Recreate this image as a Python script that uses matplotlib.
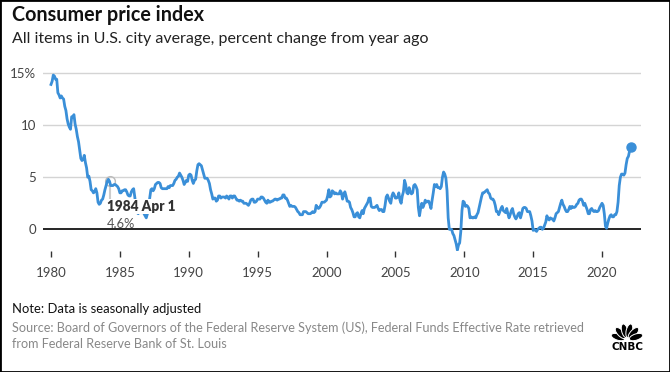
import numpy as np
import matplotlib
matplotlib.use("Agg")
import matplotlib.pyplot as plt
from matplotlib.patches import Rectangle, Ellipse

plt.rcParams['font.family'] = ['Lato', 'DejaVu Sans']

# ---- data: CPI all items, % change from year ago, monthly from Jan 1980 ----
START_YEAR = 1980
cpi_1980s = [
    13.9, 14.2, 14.8, 14.7, 14.4, 14.4, 13.1, 12.9, 12.6, 12.8, 12.6, 12.5,
    11.8, 11.4, 10.6, 10.1, 9.8, 9.6, 10.8, 10.8, 11.0, 10.1, 9.6, 8.9,
    8.4, 7.6, 6.8, 6.6, 6.7, 7.1, 6.4, 5.9, 5.0, 5.1, 4.6, 3.8,
    3.7, 3.5, 3.6, 3.9, 3.5, 2.6, 2.4, 2.5, 2.8, 2.9, 3.3, 3.8,
    4.2, 4.6, 4.8, 4.6, 4.2, 4.2, 4.2, 4.3, 4.3, 4.2, 4.1, 3.9,
    3.5, 3.5, 3.7, 3.7, 3.8, 3.8, 3.6, 3.3, 3.2, 3.2, 3.6, 3.8,
    3.9, 3.1, 2.2, 1.6, 1.5, 1.8, 1.6, 1.6, 1.8, 1.5, 1.3, 1.1,
    1.5, 2.1, 3.0, 3.8, 3.9, 3.7, 3.9, 4.3, 4.4, 4.5, 4.5, 4.4,
    4.0, 3.9, 3.9, 3.9, 3.9, 3.9, 4.1, 4.0, 4.2, 4.2, 4.2, 4.4,
    4.7, 4.8, 5.0, 5.1, 5.4, 5.2, 5.0, 4.7, 4.3, 4.5, 4.7, 4.6,
]
cpi_1990s = [
    5.2, 5.3, 5.2, 4.7, 4.4, 4.7, 4.8, 5.6, 6.2, 6.3, 6.2, 6.1,
    5.7, 5.3, 4.9, 4.9, 4.9, 4.7, 4.4, 3.8, 3.4, 2.9, 3.0, 3.0,
    2.7, 2.8, 3.2, 3.2, 3.0, 3.1, 3.1, 3.1, 3.0, 3.2, 3.1, 2.9,
    3.2, 3.2, 3.0, 3.2, 3.2, 3.0, 2.8, 2.8, 2.7, 2.8, 2.7, 2.7,
    2.5, 2.5, 2.5, 2.4, 2.3, 2.5, 2.8, 2.9, 2.9, 2.6, 2.6, 2.7,
    2.9, 2.9, 2.9, 3.1, 3.1, 3.0, 2.8, 2.6, 2.5, 2.8, 2.6, 2.6,
    2.7, 2.7, 2.8, 2.9, 2.9, 2.8, 2.9, 2.9, 3.0, 3.0, 3.3, 3.3,
    3.0, 3.0, 2.8, 2.5, 2.2, 2.3, 2.2, 2.2, 2.2, 2.1, 1.9, 1.7,
    1.6, 1.4, 1.4, 1.4, 1.7, 1.7, 1.7, 1.6, 1.5, 1.5, 1.5, 1.6,
    1.7, 1.6, 1.7, 2.3, 2.1, 2.0, 2.1, 2.3, 2.6, 2.6, 2.6, 2.7,
]
cpi_2000s = [
    2.8, 3.2, 3.8, 3.1, 3.2, 3.7, 3.6, 3.4, 3.5, 3.4, 3.4, 3.4,
    3.7, 3.5, 2.9, 3.3, 3.6, 3.2, 2.7, 2.7, 2.6, 2.1, 1.9, 1.6,
    1.2, 1.2, 1.5, 1.6, 1.2, 1.1, 1.5, 1.8, 1.5, 2.0, 2.2, 2.4,
    2.6, 3.0, 3.0, 2.2, 2.1, 2.1, 2.1, 2.2, 2.3, 2.0, 1.8, 1.9,
    1.9, 1.7, 1.7, 2.3, 3.1, 3.3, 3.0, 2.7, 2.5, 3.2, 3.5, 3.3,
    3.0, 3.0, 3.1, 3.5, 2.8, 2.5, 3.2, 3.6, 4.7, 4.3, 3.5, 3.4,
    4.0, 3.6, 3.4, 3.5, 4.2, 4.3, 4.1, 3.8, 2.1, 1.3, 2.0, 2.5,
    2.1, 2.4, 2.8, 2.6, 2.7, 2.7, 2.4, 2.0, 2.8, 3.5, 4.3, 4.1,
    4.3, 4.0, 4.0, 3.9, 4.1, 5.0, 5.5, 5.3, 4.9, 3.7, 1.1, 0.0,
    0.0, 0.0, -0.4, -0.6, -1.0, -1.4, -2.0, -1.5, -1.3, -0.2, 1.8, 2.7,
]
cpi_2010s = [
    2.6, 2.2, 2.3, 2.2, 2.0, 1.1, 1.2, 1.1, 1.1, 1.2, 1.1, 1.4,
    1.6, 2.1, 2.6, 3.1, 3.5, 3.5, 3.6, 3.7, 3.8, 3.5, 3.4, 3.0,
    2.9, 2.9, 2.7, 2.3, 1.7, 1.7, 1.4, 1.7, 2.0, 2.2, 1.8, 1.7,
    1.6, 2.0, 1.5, 1.1, 1.4, 1.8, 2.0, 1.5, 1.2, 1.0, 1.2, 1.5,
    1.6, 1.1, 1.5, 2.0, 2.1, 2.1, 2.0, 1.7, 1.7, 1.7, 1.3, 0.8,
    -0.1, 0.0, -0.1, -0.2, 0.0, 0.1, 0.2, 0.2, 0.0, 0.1, 0.4, 0.7,
    1.3, 1.0, 0.9, 1.1, 1.0, 1.0, 0.8, 1.1, 1.5, 1.6, 1.7, 2.1,
    2.5, 2.8, 2.4, 2.2, 1.9, 1.7, 1.7, 1.9, 2.2, 2.0, 2.2, 2.1,
    2.1, 2.2, 2.4, 2.5, 2.8, 2.9, 2.9, 2.7, 2.3, 2.5, 2.2, 1.9,
    1.5, 1.5, 1.9, 2.0, 1.8, 1.7, 1.8, 1.7, 1.7, 1.8, 2.1, 2.3,
]
cpi_2020s = [
    2.5, 2.3, 1.5, 0.3, 0.1, 0.6, 1.0, 1.3, 1.4, 1.2, 1.2, 1.4,
    1.4, 1.7, 2.6, 4.2, 5.0, 5.3, 5.3, 5.2, 5.4, 6.2, 6.8, 7.0,
    7.5, 7.9,
]
cpi = np.array(cpi_1980s + cpi_1990s + cpi_2000s + cpi_2010s + cpi_2020s)
years = START_YEAR + np.arange(len(cpi)) / 12.0

x_ticks = [1980, 1985, 1990, 1995, 2000, 2005, 2010, 2015, 2020]
y_ticks = [0, 5, 10, 15]
y_labels = ['0', '5', '10', '15%']

hover_x, hover_y = 1984.25, 4.6
hover_label, hover_value = '1984 Apr 1', '4.6%'

LINE_BLUE = '#3a8fd8'

# ---- figure ----
fig = plt.figure(figsize=(6.70, 3.72), dpi=100)
ax = fig.add_axes([43 / 670, 1 - 250.7 / 372, 598 / 670, 179.8 / 372])

ax.plot(years, cpi, color=LINE_BLUE, lw=2.0, zorder=3, solid_joinstyle='round')
ax.plot(years[-1], cpi[-1], 'o', color=LINE_BLUE, ms=6.5, zorder=4)

# hover marker + tooltip
ax.plot([hover_x, hover_x], [2.75, 4.25], color='#cccccc', lw=1.5, zorder=2)
ax.plot(hover_x, hover_y, 'o', mfc='none', mec='#bbbbbb', ms=7, mew=1, zorder=2)
ax.text(1984.06, 2.85, hover_label, fontsize=9.8, fontweight='heavy', color='#333333',
        ha='left', va='top', zorder=6,
        bbox=dict(facecolor='white', edgecolor='none', pad=0.8))
ax.text(1984.06, 1.05, hover_value, fontsize=9.3, color='#555555',
        ha='left', va='top', zorder=6)

ax.set_xlim(1979.42, 2022.83)
ax.set_ylim(-2.05, 15.2)

for y in [5, 10, 15]:
    ax.axhline(y, color='#d4d4d4', lw=1, zorder=1)
ax.axhline(0, color='black', lw=1.2, zorder=2)

ax.set_xticks(x_ticks)
ax.set_xticklabels([str(t) for t in x_ticks])
ax.set_yticks(y_ticks)
ax.set_yticklabels(y_labels)
ax.tick_params(axis='x', direction='out', length=4, width=1, color='#333333',
               labelsize=9.5, labelcolor='#444444', pad=8)
ax.tick_params(axis='y', length=0, labelsize=9.5, labelcolor='#444444', pad=5)
for s in ax.spines.values():
    s.set_visible(False)

# ---- texts ----
fig.text(12 / 670, 1 - 20.7 / 372, 'Consumer price index', fontsize=14.2,
         fontweight='bold', color='#111111', va='baseline', ha='left')
fig.text(12 / 670, 1 - 43 / 372,
         'All items in U.S. city average, percent change from year ago',
         fontsize=11.5, color='#222222', va='baseline', ha='left')
fig.text(12 / 670, 1 - 313 / 372, 'Note: Data is seasonally adjusted',
         fontsize=9.35, color='#111111', va='baseline', ha='left')
fig.text(12 / 670, 1 - 332 / 372,
         'Source: Board of Governors of the Federal Reserve System (US), '
         'Federal Funds Effective Rate retrieved',
         fontsize=9.1, color='#888888', va='baseline', ha='left')
fig.text(12 / 670, 1 - 348 / 372, 'from Federal Reserve Bank of St. Louis',
         fontsize=9.1, color='#888888', va='baseline', ha='left')

# ---- CNBC logo (simple peacock) ----
lax = fig.add_axes([605 / 670, 1 - 352 / 372, 44 / 670, 32 / 372])
lax.set_xlim(-22, 22)
lax.set_ylim(-14, 18)
lax.set_aspect('equal')
lax.axis('off')
for ang in [-72, -43, -14, 14, 43, 72]:
    r = np.deg2rad(ang)
    cx, cy = 9.5 * np.sin(r), 9.5 * np.cos(r) - 2
    lax.add_patch(Ellipse((cx, cy), 6.2, 14, angle=-ang, facecolor='black',
                          edgecolor='white', lw=0.7))
lax.text(0, -8.5, 'CNBC', fontsize=7.5, fontweight='heavy', family='DejaVu Sans',
         ha='center', va='center', color='black')

# frame round the whole picture
fig.add_artist(Rectangle((0, 0), 1, 1, transform=fig.transFigure, fill=False,
                         edgecolor='black', lw=2))

fig.savefig('out.png', dpi=100)
